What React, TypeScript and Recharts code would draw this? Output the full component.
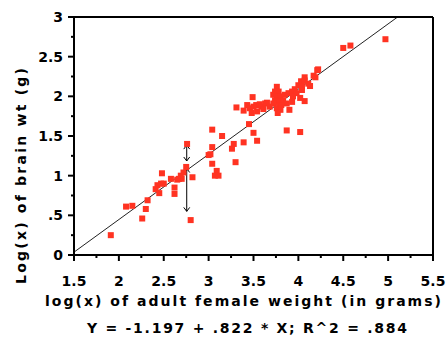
import React from "react";
import {
  ScatterChart,
  Scatter,
  XAxis,
  YAxis,
  ReferenceLine,
} from "recharts";

// log10 of adult female body weight (g)
const weightLog = [
  1.91, 2.08, 2.15, 2.26, 2.3, 2.32, 2.41, 2.43, 2.45, 2.48, 2.47, 2.5, 2.58,
  2.62, 2.62, 2.67, 2.7, 2.72, 2.75, 2.76, 2.82, 2.8, 2.69, 2.65,
  3.0, 3.02, 3.04, 3.04, 3.09, 3.07, 3.11, 3.15, 3.04, 3.26, 3.28, 3.3, 3.39,
  3.5, 3.54, 3.45,
  3.31, 3.39, 3.43, 3.49, 3.46, 3.5, 3.53, 3.57, 3.59, 3.63, 3.65, 3.48, 3.54,
  3.61, 3.68, 3.76, 3.74, 3.78, 3.72, 3.76, 3.8, 3.74, 3.78, 3.72, 3.79, 3.76,
  3.8, 3.77, 3.85, 3.89, 3.93, 3.96, 4.0, 4.03, 4.07, 4.11, 4.17, 4.21, 4.07,
  3.9, 3.87, 4.02, 3.83, 3.87, 3.94, 3.98, 4.04, 3.81, 3.93, 4.07, 4.04, 4.02,
  4.13, 4.19, 4.22,
  4.5, 4.58, 4.97,
];
// log10 of brain weight (g)
const brainLog = [
  0.25, 0.61, 0.62, 0.46, 0.58, 0.69, 0.83, 0.88, 0.78, 1.03, 0.9, 0.9, 0.96,
  0.85, 0.77, 0.96, 0.96, 1.04, 1.11, 1.4, 0.98, 0.44, 1.0, 0.95,
  1.26, 1.27, 1.36, 1.15, 1.06, 1.0, 1.0, 1.5, 1.58, 1.34, 1.4, 1.17, 1.42,
  1.54, 1.44, 1.65,
  1.86, 1.82, 1.89, 1.99, 1.85, 1.87, 1.89, 1.9, 1.87, 1.91, 1.92, 1.79, 1.81,
  1.84, 1.87, 2.12, 2.06, 2.06, 2.02, 2.0, 2.0, 1.95, 1.93, 1.91, 1.89, 1.85,
  1.83, 1.79, 2.02, 2.04, 2.06, 2.09, 2.14, 2.19, 2.2, 2.16, 2.26, 2.33, 1.94,
  1.83, 1.57, 1.55, 1.95, 1.91, 2.0, 2.04, 2.08, 1.89, 1.93, 2.24, 2.13, 1.98,
  2.13, 2.24, 2.34,
  2.61, 2.64, 2.72,
];

const xTicks = [
  1.5, 1.75, 2, 2.25, 2.5, 2.75, 3, 3.25, 3.5, 3.75, 4, 4.25, 4.5, 4.75, 5,
  5.25, 5.5,
];
const xLabels = [1.5, 2, 2.5, 3, 3.5, 4, 4.5, 5, 5.5];
const yTicks = [0, 0.25, 0.5, 0.75, 1, 1.25, 1.5, 1.75, 2, 2.25, 2.5, 2.75, 3];
const yLabels = [0, 0.5, 1, 1.5, 2, 2.5, 3];

// fitted line  Y = -1.197 + .822 * X
const intercept = -1.197;
const slope = 0.822;
const lineStartX = 1.5;
const lineEndY = 3;

// residual arrows drawn at one species
const arrowX = 2.756;
const upperArrow = [1.385, 1.185];
const lowerArrow = [1.09, 0.55];

const data = weightLog.map((x, i) => ({ x, y: brainLog[i] }));

const FONT = "'DejaVu Sans', sans-serif";
const RED = "#ff3322";

const fmtY = (v: number) => (v === 0.5 ? ".5" : String(v));

const BottomTick = (props: any) => {
  const { x, y, payload } = props;
  const major = xLabels.includes(payload.value);
  return (
    <g>
      <line x1={x} y1={y} x2={x} y2={y + (major ? 6 : 3)} stroke="#000" strokeWidth={2} />
      {major && (
        <text x={x} y={y + 31} textAnchor="middle" fontFamily={FONT} fontWeight="bold" fontSize={14} fill="#000">
          {payload.value}
        </text>
      )}
    </g>
  );
};

const TopTick = (props: any) => {
  const { x, y, payload } = props;
  const major = xLabels.includes(payload.value);
  return <line x1={x} y1={y} x2={x} y2={y - (major ? 6 : 3)} stroke="#000" strokeWidth={2} />;
};

const LeftTick = (props: any) => {
  const { x, y, payload } = props;
  const major = yLabels.includes(payload.value);
  return (
    <g>
      <line x1={x} y1={y} x2={x - (major ? 6 : 3)} y2={y} stroke="#000" strokeWidth={2} />
      {major && (
        <text x={x - 11} y={y + 5} textAnchor="end" fontFamily={FONT} fontWeight="bold" fontSize={14} fill="#000">
          {fmtY(payload.value)}
        </text>
      )}
    </g>
  );
};

const RightTick = (props: any) => {
  const { x, y, payload } = props;
  const major = yLabels.includes(payload.value);
  return <line x1={x} y1={y} x2={x + (major ? 6 : 3)} y2={y} stroke="#000" strokeWidth={2} />;
};

const Square = (props: any) => {
  const { cx, cy } = props;
  return <rect x={cx - 3} y={cy - 3} width={6} height={6} fill={RED} />;
};

const Arrow = (props: any) => {
  const { x1, y1, x2, y2 } = props;
  const top = Math.min(y1, y2);
  const bot = Math.max(y1, y2);
  return (
    <g stroke="#000" strokeWidth={1} fill="none">
      <line x1={x1} y1={top} x2={x2} y2={bot} />
      <polyline points={`${x1 - 3},${top + 4} ${x1},${top} ${x1 + 3},${top + 4}`} />
      <polyline points={`${x1 - 3},${bot - 4} ${x1},${bot} ${x1 + 3},${bot - 4}`} />
    </g>
  );
};

const XTitle = () => (
  <g fontFamily={FONT} fontWeight="bold" fill="#000">
    <text x={243} y={306} textAnchor="middle" fontSize={14} textLength={396} lengthAdjust="spacing">
      log(x) of adult female weight (in grams)
    </text>
    <text x={247} y={333} textAnchor="middle" fontSize={14} textLength={320} lengthAdjust="spacing">
      Y = -1.197 + .822 * X; R^2 = .884
    </text>
  </g>
);

const YTitle = () => (
  <text
    x={21}
    y={176}
    transform="rotate(-90 21 176)"
    textAnchor="middle"
    dominantBaseline="central"
    fontFamily={FONT}
    fontWeight="bold"
    fontSize={14}
    textLength={216}
    lengthAdjust="spacing"
    fill="#000"
  >
    Log(x) of brain wt (g)
  </text>
);

export default function App() {
  const lineEndX = (lineEndY - intercept) / slope;
  return (
    <div style={{ position: "absolute", left: 0, top: 0, background: "#fff" }}>
      <ScatterChart
        width={448}
        height={343}
        margin={{ top: 7, right: 5, bottom: 40, left: 20 }}
      >
        <XAxis
          type="number"
          dataKey="x"
          domain={[1.5, 5.5]}
          ticks={xTicks}
          interval={0}
          height={48}
          tickSize={0}
          tickMargin={0}
          tickLine={false}
          tick={<BottomTick />}
          axisLine={{ stroke: "#000", strokeWidth: 2 }}
          label={<XTitle />}
        />
        <XAxis
          xAxisId="top"
          orientation="top"
          type="number"
          domain={[1.5, 5.5]}
          ticks={xTicks}
          interval={0}
          height={10}
          tickSize={0}
          tickMargin={0}
          tickLine={false}
          tick={<TopTick />}
          axisLine={{ stroke: "#000", strokeWidth: 2 }}
        />
        <YAxis
          type="number"
          dataKey="y"
          domain={[0, 3]}
          ticks={yTicks}
          interval={0}
          width={54}
          tickSize={0}
          tickMargin={0}
          tickLine={false}
          tick={<LeftTick />}
          axisLine={{ stroke: "#000", strokeWidth: 2 }}
          label={<YTitle />}
        />
        <YAxis
          yAxisId="right"
          orientation="right"
          type="number"
          domain={[0, 3]}
          ticks={yTicks}
          interval={0}
          width={10}
          tickSize={0}
          tickMargin={0}
          tickLine={false}
          tick={<RightTick />}
          axisLine={{ stroke: "#000", strokeWidth: 2 }}
        />
        <ReferenceLine
          segment={[
            { x: lineStartX, y: intercept + slope * lineStartX },
            { x: lineEndX, y: lineEndY },
          ]}
          stroke="#222"
          strokeWidth={1}
        />
        <ReferenceLine
          segment={[
            { x: arrowX, y: upperArrow[0] },
            { x: arrowX, y: upperArrow[1] },
          ]}
          shape={(p: any) => <Arrow {...p} />}
        />
        <ReferenceLine
          segment={[
            { x: arrowX, y: lowerArrow[0] },
            { x: arrowX, y: lowerArrow[1] },
          ]}
          shape={(p: any) => <Arrow {...p} />}
        />
        <Scatter data={data} shape={<Square />} isAnimationActive={false} />
      </ScatterChart>
    </div>
  );
}
